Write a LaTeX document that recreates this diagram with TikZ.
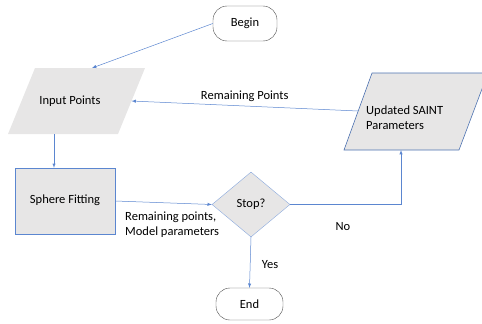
\documentclass[tikz,border=0pt]{standalone}
\usepackage{fontspec}
\setmainfont{Carlito}
\usetikzlibrary{shapes.geometric}
\definecolor{lnblue}{HTML}{5B86D0}
\definecolor{boxgray}{HTML}{E7E6E6}
\tikzset{
  term/.style={draw=black!70, rounded corners=14pt, minimum width=64pt, minimum height=35pt, inner sep=0pt},
  iobox/.style={fill=boxgray},
  procbox/.style={draw=lnblue, fill=boxgray, minimum width=100pt, minimum height=66pt, inner sep=0pt},
  decide/.style={diamond, draw=lnblue!70, fill=boxgray, minimum width=78pt, minimum height=65pt, inner sep=0pt},
  flow/.style={->, draw=lnblue, line width=.5pt},
  lbl/.style={inner sep=0pt}
}
\begin{document}
\begin{tikzpicture}[>=latex, x=1pt, y=-1pt, font=\fontsize{12.5}{15}\selectfont]
\useasboundingbox (0,0) rectangle (482,324);
% terminals
\node[term] (beg) at (245,23.5) {Begin};
\node[term, minimum width=67pt, minimum height=32pt] (end) at (249.5,304) {End};
% data boxes (parallelograms)
\path[iobox] (35,68) -- (145,68) -- (118,134) -- (8,134) -- cycle;
\node[lbl] (inp) at (70,101) {Input Points};
\coordinate (inpin) at (92,68);
\coordinate (inpret) at (131.5,101);
\path[iobox, draw=lnblue!85!black, line width=.6pt] (372,73) -- (488,73) -- (459,150) -- (344,150) -- cycle;
\node[lbl, align=left, anchor=west] (upd) at (366,118) {Updated SAINT\\Parameters};
\coordinate (updout) at (358,111);
\coordinate (updin) at (401,150);
% process and decision
\node[procbox] (sph) at (65,201) {\raisebox{4pt}{Sphere Fitting}};
\node[decide] (stop) at (251,204.5) {Stop?};
% connectors
\draw[flow] (beg.west) -- (inpin);
\draw[flow] (updout) -- node[lbl, above=4pt] (remtxt) {Remaining Points} (inpret);
\coordinate (sphin) at ([xshift=-11pt]sph.north);
\draw[flow] (sphin |- 0,134) -- (sphin);
\draw[flow] (sph.east) -- (stop.west);
\draw[flow] (stop.east) -| (updin);
\draw[flow] (stop.south) -- (end.north);
% labels
\node[lbl, align=left, anchor=west] (modtxt) at (125,225) {Remaining points,\\Model parameters};
\node[lbl] (notxt) at (343,227) {No};
\node[lbl] (yestxt) at (270,265) {Yes};
\end{tikzpicture}
\end{document}
